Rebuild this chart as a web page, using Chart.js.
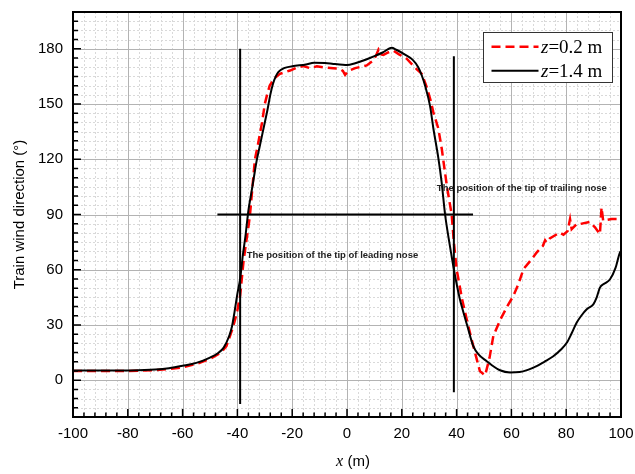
<!DOCTYPE html>
<html>
<head>
<meta charset="utf-8">
<script src="https://cdn.jsdelivr.net/npm/chart.js@4/dist/chart.umd.min.js"></script>
<style>
html,body{margin:0;padding:0;background:#fff;}
#wrap{width:635px;height:474px;}
</style>
</head>
<body>
<div id="wrap"><canvas id="c" width="635" height="474"></canvas></div>
<script>
// ---- data ----
const seriesLabels = ['z=0.2 m', 'z=1.4 m'];
// z = 0.2 m  [x (m), direction (deg)]
const z02 = [[-100,5],[-90,5],[-80,5],[-70,5.4],[-65,6],[-60,7],[-55,8.8],[-50,11.5],[-46,15],[-44,18.5],
  [-42,27],[-41,32],[-40,38],[-39,46],[-38.4,55],[-37.8,64],[-37,73],[-36,83],[-35.4,90],[-34.5,105],
  [-33.6,120],[-32.5,128],[-31,140],[-30,150],[-29,156],[-28.2,160],[-26.5,164],[-24.5,166.4],[-20.8,168.2],[-18,170],
  [-16,170.6],[-13.5,169.5],[-11,170.5],[-8.7,170],[-5,169.5],[-2.5,169],[-1.5,168],[-0.7,165.9],[0.5,168],[3,169.5],
  [7.2,171],[9.6,173.7],[10.5,176],[11.5,179.6],[12.5,177],[13.3,176.7],[15,178],[16.9,179],[19,177],[21.8,174.6],
  [25.4,169],[27.3,166.4],[29.1,159.2],[30.5,152],[31.5,145.6],[33.3,136.9],[34.6,125.6],[35.1,120],[36.5,105],[38.2,90],
  [39,75],[40,60.3],[42,44],[44,31],[46.1,18.5],[48.5,4.9],[50.4,2.6],[52,12],[53.4,24],[56,33],
  [58.9,41.2],[60.7,45.7],[62.5,52],[64.4,60.3],[67,65],[69.2,69.3],[71.5,73],[72.3,76],[72.9,74.8],[74,77],
  [77.7,80.2],[79,79],[80.5,81],[81.4,87.5],[82,82],[84,85],[85,84.8],[88.6,86],[90.5,83],[92.3,79.3],
  [92.9,93.8],[93.5,86.6],[94.7,87],[96.6,87.5],[99.6,87.5]];
// z = 1.4 m  [x (m), direction (deg)]
const z14 = [[-100,5.3],[-90,5.2],[-80,5.3],[-70,5.8],[-65,6.5],[-60,7.8],[-55,9.4],[-50,12.3],[-47,14.8],[-45,17.7],
  [-43,24],[-42,29],[-41,37.5],[-40,47],[-39,55],[-38,68],[-37,79],[-36,92],[-35,101],[-34,110],
  [-33,119],[-32,126],[-31,133],[-30,140],[-29,147],[-28,155],[-27,161],[-26,165],[-25,167.5],[-23,169.5],
  [-20,170.5],[-15,171.5],[-12,172.4],[-8,172.3],[-5,171.8],[-1.5,171.3],[0,171.2],[3,172.2],[7,174.2],[10,176],
  [13,178],[16.3,180.6],[18,179.5],[21,177],[24,174],[26,170],[27.3,165.5],[28.5,160],[30.3,149],[31.5,137],
  [33.3,121],[34.5,108],[35.8,90],[37,78],[38,69],[39.4,57],[41.2,44],[42,39.5],[44,29],[46.1,18.5],
  [48,14],[51,10.3],[53,8],[55.8,5.4],[59.5,4.2],[63,4.4],[66,5.6],[69.2,7.6],[72,10],[75.3,13],
  [78,16.5],[80.2,20.3],[82,25.5],[83.8,31.2],[85.5,35],[87.5,38.5],[89.9,41.2],[91.1,44.8],[92.3,50.3],[94,52.5],
  [96,54.8],[98,61],[99.6,69.3],[100,70]];
// marker lines
const leadingNoseLine = [[-39,180],[-39,-13]];
const trailingNoseLine = [[39,176],[39,-6.5]];
const level90Line = [[-47.3,90],[46,90]];
const notes = [
  {text:'The position of the tip of leading nose', x:-36.6, y:68},
  {text:'The position of the tip of trailing nose', x:32.8, y:104.4}
];
const xTickLabels = [-100,-80,-60,-40,-20,0,20,40,60,80,100];
const yTickLabels = [0,30,60,90,120,150,180];

const SANS = "'Liberation Sans', Arial, sans-serif";
const SERIF = "'Liberation Serif', 'Times New Roman', serif";
const pts = a => a.map(p => ({x:p[0], y:p[1]}));

const decor = {
  id:'decor',
  beforeDatasetsDraw(chart){
    const {ctx, chartArea:a, scales:{x, y}} = chart;
    ctx.save();
    // minor grid (dotted)
    ctx.strokeStyle = '#d9d9d9'; ctx.lineWidth = 1; ctx.setLineDash([2,2]);
    ctx.beginPath();
    x.ticks.forEach(t => { if (t.value % 20 !== 0) { const p = Math.round(x.getPixelForValue(t.value)) + 0.5; ctx.moveTo(p, a.top); ctx.lineTo(p, a.bottom); } });
    y.ticks.forEach(t => { if (((t.value % 30) + 30) % 30 !== 0) { const p = Math.round(y.getPixelForValue(t.value)) + 0.5; ctx.moveTo(a.left, p); ctx.lineTo(a.right, p); } });
    ctx.stroke();
    // major grid (solid)
    ctx.setLineDash([]); ctx.strokeStyle = '#b3b3b3';
    ctx.beginPath();
    xTickLabels.forEach(v => { const p = Math.round(x.getPixelForValue(v)) + 0.5; ctx.moveTo(p, a.top); ctx.lineTo(p, a.bottom); });
    yTickLabels.forEach(v => { const p = Math.round(y.getPixelForValue(v)) + 0.5; ctx.moveTo(a.left, p); ctx.lineTo(a.right, p); });
    ctx.stroke();
    ctx.restore();
  },
  afterDraw(chart){
    const {ctx, chartArea:a, scales:{x, y}} = chart;
    ctx.save();
    // tick marks (inward)
    ctx.strokeStyle = '#000'; ctx.lineWidth = 1.5;
    ctx.beginPath();
    x.ticks.forEach(t => { const p = x.getPixelForValue(t.value); const L = (t.value % 20 === 0) ? 8 : 4.5; ctx.moveTo(p, a.bottom); ctx.lineTo(p, a.bottom - L); });
    y.ticks.forEach(t => { const p = y.getPixelForValue(t.value); const L = (((t.value % 30) + 30) % 30 === 0) ? 8 : 5; ctx.moveTo(a.left, p); ctx.lineTo(a.left + L, p); });
    ctx.stroke();
    // frame
    ctx.lineWidth = 2;
    ctx.strokeRect(a.left, a.top, a.right - a.left, a.bottom - a.top);
    // notes
    ctx.fillStyle = '#222'; ctx.font = 'bold 9.5px ' + SANS; ctx.textBaseline = 'middle'; ctx.textAlign = 'left';
    notes.forEach(n => ctx.fillText(n.text, x.getPixelForValue(n.x), y.getPixelForValue(n.y)));
    // x axis title: italic x + (m)
    const cx = (a.left + a.right) / 2 + 6, by = 466;
    ctx.textBaseline = 'alphabetic';
    ctx.font = 'italic 16px ' + SERIF; const w1 = ctx.measureText('x').width;
    ctx.font = '15px ' + SANS; const w2 = ctx.measureText(' (m)').width;
    const sx = cx - (w1 + w2) / 2;
    ctx.fillStyle = '#000';
    ctx.font = 'italic 16px ' + SERIF; ctx.fillText('x', sx, by);
    ctx.font = '15px ' + SANS; ctx.fillText(' (m)', sx + w1, by);
    // legend
    const bl = a.right - 138, bt = a.top + 20, bw = 129, bh = 50;
    ctx.fillStyle = '#fff'; ctx.fillRect(bl, bt, bw, bh);
    ctx.strokeStyle = '#333'; ctx.lineWidth = 1; ctx.strokeRect(bl + 0.5, bt + 0.5, bw, bh);
    const ds = chart.data.datasets;
    [ds[1], ds[0]].forEach((d, i) => {
      const ry = bt + 14.7 + i * 24;
      ctx.strokeStyle = d.borderColor; ctx.lineWidth = d.borderWidth; ctx.setLineDash(d.borderDash || []);
      ctx.beginPath(); ctx.moveTo(bl + 8.5, ry); ctx.lineTo(bl + 55.5, ry); ctx.stroke();
      ctx.setLineDash([]);
      const lab = d.label;
      ctx.fillStyle = '#000'; ctx.textBaseline = 'middle';
      ctx.font = 'italic 19px ' + SERIF; ctx.fillText(lab.slice(0,1), bl + 58, ry + 1);
      const wz = ctx.measureText(lab.slice(0,1)).width;
      ctx.font = '19px ' + SERIF; ctx.fillText(lab.slice(1), bl + 58 + wz, ry + 1);
    });
    ctx.restore();
  }
};

const lineDs = (arr) => ({data: pts(arr), borderColor:'#000', borderWidth:2, pointRadius:0, tension:0, fill:false, order:0});

new Chart(document.getElementById('c'), {
  type:'line',
  data:{
    datasets:[
      {label:seriesLabels[1], data:pts(z14), borderColor:'#000', borderWidth:2, pointRadius:0, tension:0.3, cubicInterpolationMode:'monotone', fill:false, order:1},
      {label:seriesLabels[0], data:pts(z02), borderColor:'#ff0000', borderWidth:2.5, borderDash:[9,5], pointRadius:0, tension:0, fill:false, order:2},
      Object.assign(lineDs(leadingNoseLine), {label:'lead'}),
      Object.assign(lineDs(trailingNoseLine), {label:'trail'}),
      Object.assign(lineDs(level90Line), {label:'ninety'})
    ]
  },
  options:{
    responsive:false, animation:false, maintainAspectRatio:false,
    layout:{padding:{left:0, right:14, top:12, bottom:0}},
    plugins:{legend:{display:false}, tooltip:{enabled:false}},
    scales:{
      x:{type:'linear', min:-100, max:100,
        grid:{display:false, drawTicks:false}, border:{display:false},
        ticks:{stepSize:4, autoSkip:false, maxRotation:0, padding:8, color:'#000', font:{family:SANS, size:15},
          callback:(v) => xTickLabels.includes(v) ? String(v) : ''},
        afterFit:(s) => { s.height = 57; s.paddingLeft = 0; s.paddingRight = 0; }
      },
      y:{type:'linear', min:-20, max:200,
        grid:{display:false, drawTicks:false}, border:{display:false},
        ticks:{stepSize:5, autoSkip:false, padding:10, color:'#000', font:{family:SANS, size:15},
          callback:(v) => yTickLabels.includes(v) ? String(v) : ''},
        title:{display:true, text:'Train wind direction (°)', color:'#000', font:{family:SANS, size:15}, padding:{top:11, bottom:0}},
        afterFit:(s) => { s.width = 73; s.paddingTop = 0; s.paddingBottom = 0; }
      }
    }
  },
  plugins:[decor]
});
</script>
</body>
</html>
